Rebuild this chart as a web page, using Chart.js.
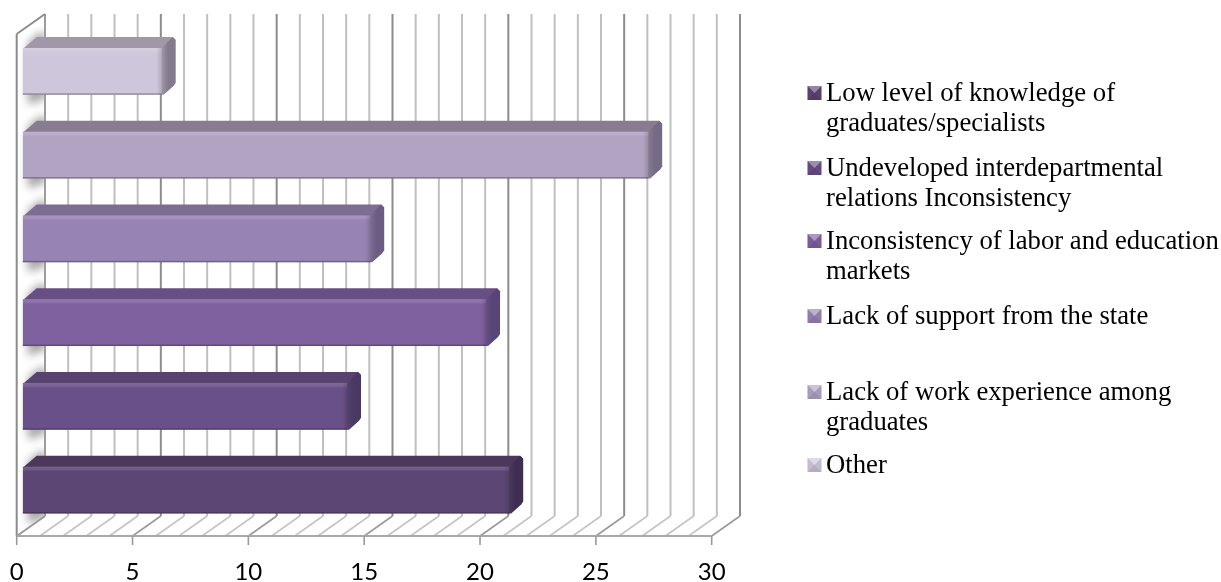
<!DOCTYPE html>
<html>
<head>
<meta charset="utf-8">
<style>html,body{margin:0;padding:0;background:#fff}canvas{display:block}</style>
<script src="https://cdn.jsdelivr.net/npm/chart.js@4/dist/chart.umd.min.js"></script>
</head>
<body>
<canvas id="c" width="1221" height="582"></canvas>
<script>
const categories = ["Low level of knowledge of graduates/specialists","Undeveloped interdepartmental relations Inconsistency","Inconsistency of labor and education markets","Lack of support from the state","Lack of work experience among graduates","Other"];
const values = [21, 14, 20, 15, 27, 6];
const faceColors = ["#5c4674","#6a5088","#7f61a0","#9884b4","#b0a4c2","#cec6da"];
const topColors = ["#4b385b","#574270","#674f84","#7d6d93","#887c92","#a097a8"];
const sideColors = ["#3e2f52","#4a3865","#584478","#6b5c84","#766b85","#837b8d"];
const legendLines = [["Low level of knowledge of","graduates/specialists"],["Undeveloped interdepartmental","relations Inconsistency"],["Inconsistency of labor and education","markets"],["Lack of support from the state"],["Lack of work experience among","graduates"],["Other"]];
const axisMin = 0, axisMax = 30, majorStep = 5, minorStep = 1;

const backDX = 22.3, frontDX = -6, barDX = 14, barDY = 11;
const backTop = 14, backBottom = 516, frontBottom = 536, frontTop = 34;
const legendY = [93, 168, 241, 316, 392, 465];

function polygon(ctx, pts){
  ctx.beginPath();
  pts.forEach((p,i)=> i ? ctx.lineTo(p[0],p[1]) : ctx.moveTo(p[0],p[1]));
  ctx.closePath();
}
function line(ctx,x1,y1,x2,y2,color,w){
  ctx.strokeStyle=color;ctx.lineWidth=w;ctx.beginPath();ctx.moveTo(x1,y1);ctx.lineTo(x2,y2);ctx.stroke();
}
const frame3d = {
  id:'frame3d',
  beforeDatasetsDraw(chart){
    const ctx=chart.ctx, xs=chart.scales.x, meta=chart.getDatasetMeta(0);
    ctx.save();
    const x0=xs.getPixelForValue(axisMin);
    for(let v=axisMin;v<=axisMax;v+=minorStep){
      const px=xs.getPixelForValue(v), major=v%majorStep===0;
      const col=major?'#8c8c8c':'#c0c0c0';
      line(ctx,px+backDX,backTop,px+backDX,backBottom,col,2);
      line(ctx,px+backDX,backBottom,px+frontDX,frontBottom,major?'#9a9a9a':'#c4c4c4',1.6);
    }
    ctx.save();
    polygon(ctx,[[x0+frontDX,frontTop],[x0+backDX,backTop],[x0+backDX,backBottom],[x0+frontDX,frontBottom]]);
    ctx.clip();
    ctx.fillStyle='#fff';ctx.fillRect(x0+frontDX+1,0,27,582);
    ctx.filter='blur(4px)';
    ctx.fillStyle='rgba(110,110,110,.6)';
    meta.data.forEach(b=>{
      const t=b.y-b.height/2,bot=b.y+b.height/2;
      polygon(ctx,[[b.base+5,t-5],[b.base+16,t-15],[b.base+24,t-15],[b.base+24,bot+3],[b.base+10,bot+9],[b.base+5,bot+9]]);
      ctx.fill();
    });
    ctx.restore();
    line(ctx,x0+backDX,backTop,x0+backDX,backBottom,'#9c9c9c',2);
    line(ctx,x0+frontDX,frontTop,x0+backDX,backTop,'#8c8c8c',2);
    line(ctx,x0+frontDX,frontTop,x0+frontDX,frontBottom,'#8c8c8c',2);
    line(ctx,x0+frontDX,frontBottom,x0+backDX,backBottom,'#9a9a9a',1.6);
    line(ctx,x0+frontDX,frontBottom,xs.getPixelForValue(axisMax)+frontDX,frontBottom,'#a8a8a8',2);
    for(let v=axisMin;v<=axisMax;v+=majorStep){
      const px=xs.getPixelForValue(v)+frontDX;
      line(ctx,px,frontBottom,px,frontBottom+9,'#9a9a9a',1.6);
    }
    meta.data.forEach((b,i)=>{
      const t=b.y-b.height/2,bot=b.y+b.height/2,r=b.x;
      ctx.fillStyle=topColors[i];
      polygon(ctx,[[b.base,t+1],[b.base+barDX,t-barDY],[r+barDX-3,t-barDY],[r+barDX,t-barDY+3],[r,t+1]]);
      ctx.fill();
      const g=ctx.createLinearGradient(r,0,r+barDX,0);
      g.addColorStop(0,topColors[i]);g.addColorStop(.45,sideColors[i]);g.addColorStop(1,sideColors[i]);
      ctx.fillStyle=g;
      polygon(ctx,[[r-1,t+1],[r+barDX-3,t-barDY],[r+barDX,t-barDY+3],[r+barDX,bot-barDY-1],[r+barDX-2,bot-barDY+2],[r+2,bot],[r-1,bot]]);
      ctx.fill();
    });
    ctx.restore();
  },
  afterDatasetsDraw(chart){
    const ctx=chart.ctx, meta=chart.getDatasetMeta(0);
    ctx.save();
    meta.data.forEach(b=>{
      const t=b.y-b.height/2,bot=b.y+b.height/2,r=b.x,l=b.base;
      const g=ctx.createLinearGradient(0,t,0,t+5);
      g.addColorStop(0,'rgba(255,255,255,.16)');g.addColorStop(.6,'rgba(255,255,255,.1)');g.addColorStop(1,'rgba(255,255,255,0)');
      ctx.fillStyle=g;ctx.fillRect(l,t,r-l,5);
      const g2=ctx.createLinearGradient(r-5,0,r,0);
      g2.addColorStop(0,'rgba(0,0,0,0)');g2.addColorStop(1,'rgba(0,0,0,.14)');
      ctx.fillStyle=g2;ctx.fillRect(r-5,t,5,bot-t);
      ctx.fillStyle='rgba(40,30,50,.35)';ctx.fillRect(l,bot-1.5,r-l,1.5);
    });
    ctx.textBaseline='alphabetic';ctx.textAlign='left';
    ctx.font='26.7px "Liberation Serif"';
    legendLines.forEach((ls,i)=>{
      const y=legendY[i], mx=807.5, my=y-7, s=14;
      const c=[mx+s/2,my+s/2];
      ctx.fillStyle=faceColors[i];ctx.fillRect(mx,my,s,s);
      ctx.fillStyle='rgba(255,255,255,.35)';polygon(ctx,[[mx,my],[mx+s,my],c]);ctx.fill();
      ctx.fillStyle='rgba(0,0,0,.12)';polygon(ctx,[[mx,my+s],[mx+s,my+s],c]);ctx.fill();
      ctx.fillStyle='rgba(0,0,0,.05)';polygon(ctx,[[mx,my],[mx,my+s],c]);ctx.fill();
      polygon(ctx,[[mx+s,my],[mx+s,my+s],c]);ctx.fill();
      ctx.fillStyle='#000';
      ls.forEach((tx,j)=>ctx.fillText(tx,826,y+8+j*30));
    });
    ctx.restore();
  }
};
new Chart(document.getElementById('c'),{
  type:'bar',
  data:{labels:categories,datasets:[{data:values,backgroundColor:faceColors,borderWidth:0,barPercentage:1,categoryPercentage:0.56}]},
  options:{
    indexAxis:'y',responsive:false,animation:false,
    layout:{padding:{left:22.7,right:503.3,top:29.5,bottom:0}},
    plugins:{legend:{display:false},title:{display:false},tooltip:{enabled:false}},
    scales:{
      x:{type:'linear',min:axisMin,max:axisMax,border:{display:false},grid:{display:false},
        afterFit(s){s.height=50;s.paddingLeft=0;s.paddingRight=0;},
        ticks:{stepSize:majorStep,labelOffset:frontDX,padding:18,maxRotation:0,color:'#000',font:{family:'Lato',size:24}}},
      y:{type:'category',reverse:true,display:false}
    }
  },
  plugins:[frame3d]
});
</script>
</body>
</html>
